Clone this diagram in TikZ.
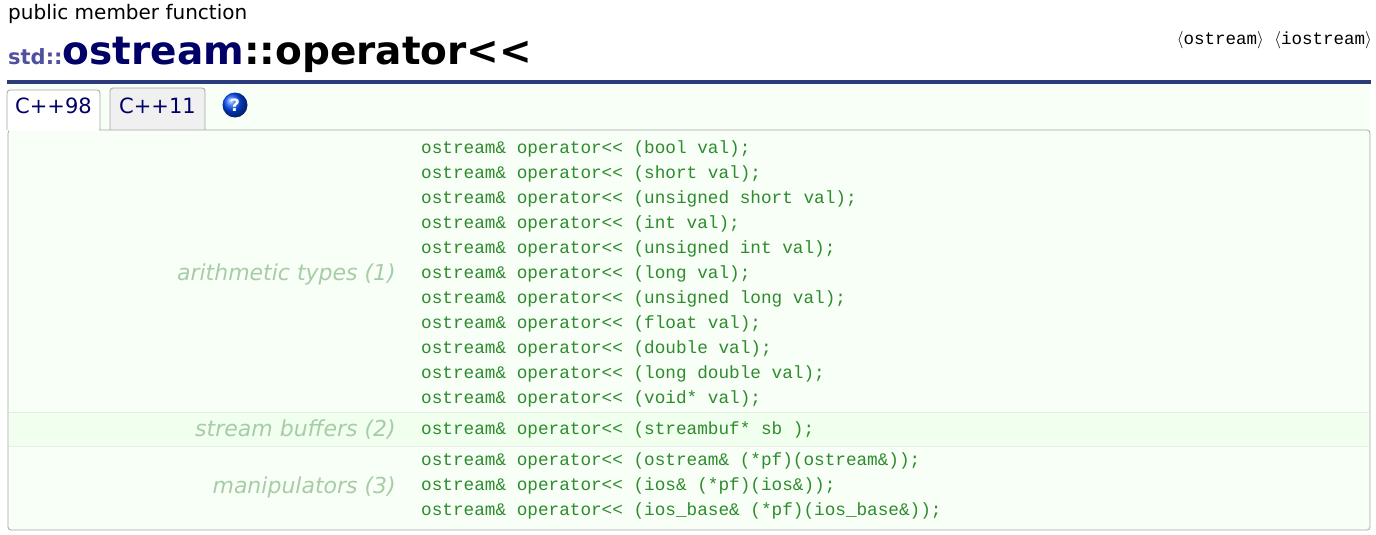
\documentclass[tikz,border=0pt]{standalone}
\usepackage{fontspec}
\setmainfont{DejaVu Sans}
\newfontfamily\codefont{Liberation Mono}
\newfontfamily\serifmono{Liberation Mono}
\begin{document}
\begin{tikzpicture}[x=1pt,y=-1pt,
 code/.style={anchor=west,inner sep=0,text=codegreen,font=\codefont\fontsize{17.7}{18}\selectfont},
 lab/.style={anchor=east,inner sep=0,text=labgreen,font=\itshape\fontsize{22}{24}\selectfont},
 tab/.style={draw=gray!70,rounded corners=3pt,line width=0.8pt}]
\definecolor{codegreen}{HTML}{2E8B2E}
\definecolor{labgreen}{HTML}{A8CCA8}
\definecolor{panel}{HTML}{F8FFF6}
\definecolor{navy}{HTML}{000066}
\definecolor{stdc}{HTML}{5050A0}
\definecolor{rule}{HTML}{2B3B7B}
\useasboundingbox (0,0) rectangle (1376,535);
\fill[white] (0,0) rectangle (1376,535);
\node[anchor=base west,inner sep=0,font=\fontsize{20}{22}\selectfont] (pub) at (8,20) {public member function};
\node[anchor=base west,inner sep=0,font=\bfseries\fontsize{21}{22}\selectfont,text=stdc] (std) at (8,64) {std::};
\node[anchor=base west,inner sep=0,font=\bfseries\fontsize{39}{40}\selectfont] (ttl) at (std.base east) {\textcolor{navy}{ostream}::operator<{}<};
\node[anchor=base east,inner sep=0,font=\serifmono\fontsize{17.5}{18}\selectfont] (hdr) at (1372,45) {$\langle$ostream$\rangle$ $\langle$iostream$\rangle$};
\fill[panel] (7,84) rectangle (1370,130);
\draw[rule,line width=3pt] (7,82) -- (1371,82);
\draw[tab,fill=white] (7,130) -- (7,90) -- (100,90) -- (100,130);
\draw[tab,fill=gray!12] (110,130) -- (110,88) -- (205,88) -- (205,130);
\node[font=\fontsize{21}{22}\selectfont,text=navy] (t98) at (53.5,106) {C++98};
\node[font=\fontsize{21}{22}\selectfont,text=navy] (t11) at (157.5,106) {C++11};
\shade[ball color=blue!70!cyan] (235,105) circle (12.5);
\node[text=white,font=\bfseries\fontsize{17}{18}\selectfont] (q) at (235,105) {?};
\draw[tab,fill=panel] (8,130) rectangle (1370,530);
\fill[white] (8.6,129) rectangle (99.4,131);
\draw[green!8!gray!15,line width=0.6pt] (9,412) -- (1369,412) (9,446) -- (1369,446);
\fill[green!40!white,opacity=0.08] (9,412) rectangle (1369,446);
\foreach \t [count=\i from 0] in {(bool val);,(short val);,(unsigned short val);,(int val);,(unsigned int val);,(long val);,(unsigned long val);,(float val);,(double val);,(long double val);,(void* val);}
  \node[code] (c\i) at (421,149+25*\i) {ostream\& operator<{}< \t};
\node[code] (sb) at (421,430) {ostream\& operator<{}< (streambuf* sb );};
\node[code] (m1) at (421,461) {ostream\& operator<{}< (ostream\& (*pf)(ostream\&));};
\node[code] (m2) at (421,486) {ostream\& operator<{}< (ios\& (*pf)(ios\&));};
\node[code] (m3) at (421,511) {ostream\& operator<{}< (ios\_base\& (*pf)(ios\_base\&));};
\node[lab] (l1) at (396,274) {arithmetic types (1)};
\node[lab] (l2) at (396,430) {stream buffers (2)};
\node[lab] (l3) at (396,487) {manipulators (3)};
\end{tikzpicture}
\end{document}
